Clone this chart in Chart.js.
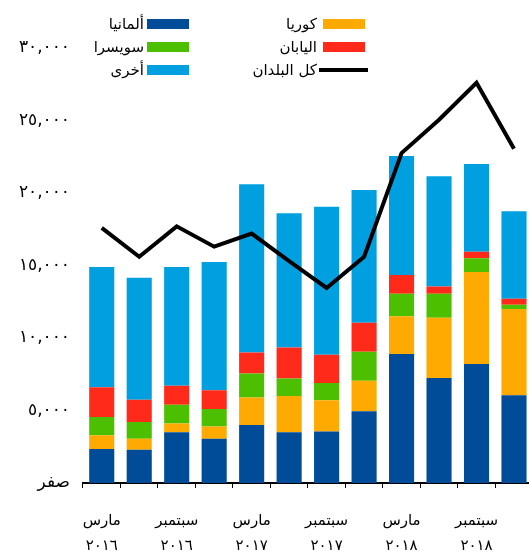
<!DOCTYPE html>
<html>
<head>
<meta charset="utf-8">
<script src="https://cdn.jsdelivr.net/npm/chart.js@4"></script>
<style>
  body { margin: 0; background: #fff; overflow: hidden; }
  #wrap { position: relative; width: 534px; height: 558px; }
  .row { position: absolute; left: 0; display: flex; justify-content: flex-end; align-items: center;
         font-family: "DejaVu Sans", sans-serif; font-size: 15px; color: #000; height: 20px; }
  .sw { height: 10px; }
</style>
</head>
<body>
<div id="wrap">
  <canvas id="chart"></canvas>
  <!-- legend, right column first as in the original -->
  <div class="row" style="top:14px;width:189px;gap:3px;"><span>ألمانيا</span><span class="sw" style="width:42px;background:#004c99"></span></div>
  <div class="row" style="top:37px;width:189px;gap:3px;"><span>سويسرا</span><span class="sw" style="width:42px;background:#4cbf00"></span></div>
  <div class="row" style="top:60px;width:189px;gap:3px;"><span>أخرى</span><span class="sw" style="width:42px;background:#00a0e0"></span></div>
  <div class="row" style="top:14px;width:365px;gap:6px;"><span>كوريا</span><span class="sw" style="width:42px;background:#ffaa00"></span></div>
  <div class="row" style="top:37px;width:365px;gap:6px;"><span>اليابان</span><span class="sw" style="width:42px;background:#ff2a1a"></span></div>
  <div class="row" style="top:60px;width:368px;gap:2px;"><span>كل البلدان</span><span style="width:49px;height:4px;background:#000"></span></div>
</div>
<script>
// quarters, labels shown for every other one
const categories = ['مارس ٢٠١٦', 'يونيو ٢٠١٦', 'سبتمبر ٢٠١٦', 'ديسمبر ٢٠١٦',
                    'مارس ٢٠١٧', 'يونيو ٢٠١٧', 'سبتمبر ٢٠١٧', 'ديسمبر ٢٠١٧',
                    'مارس ٢٠١٨', 'يونيو ٢٠١٨', 'سبتمبر ٢٠١٨', 'ديسمبر ٢٠١٨'];

const germany     = [2350, 2300, 3500, 3050, 4000, 3500, 3550, 4950, 8900, 7250, 8200, 6050];
const korea       = [950, 750, 600, 850, 1900, 2500, 2150, 2100, 2600, 4150, 6350, 5950];
const switzerland = [1250, 1150, 1300, 1200, 1650, 1200, 1200, 2000, 1550, 1650, 950, 300];
const japan       = [2050, 1550, 1300, 1300, 1450, 2150, 1950, 2000, 1300, 500, 450, 400];
const other       = [8300, 8400, 8200, 8850, 11600, 9250, 10200, 9150, 8200, 7600, 6050, 6050];
const allCountries = [17600, 15600, 17700, 16300, 17200, 15300, 13450, 15600, 22750, 25050, 27600, 23050];

const yTicks = [0, 5000, 10000, 15000, 20000, 25000, 30000];

const arDigits = '٠١٢٣٤٥٦٧٨٩';
function toArabic(n) {
    if (n === 0) return 'صفر';
    const s = String(n).replace(/\B(?=(\d{3})+(?!\d))/g, ',');
    return s.replace(/\d/g, d => arDigits[d]);
}

const font = { family: '"DejaVu Sans", sans-serif', size: 15 };

function barSet(label, data, color) {
    return {
        type: 'bar',
        label: label,
        data: data,
        backgroundColor: color,
        borderWidth: 0,
        stack: 'countries',
        order: 1,
        categoryPercentage: 1,
        barPercentage: 0.67
    };
}

const ctx = document.getElementById('chart').getContext('2d');
const chart = new Chart(ctx, {
    data: {
        labels: categories,
        datasets: [
            {
                type: 'line',
                label: 'كل البلدان',
                data: allCountries,
                borderColor: '#000',
                borderWidth: 4,
                pointRadius: 0,
                tension: 0,
                fill: false,
                stack: 'total',
                order: 0
            },
            barSet('ألمانيا', germany, '#004c99'),
            barSet('كوريا', korea, '#ffaa00'),
            barSet('سويسرا', switzerland, '#4cbf00'),
            barSet('اليابان', japan, '#ff2a1a'),
            barSet('أخرى', other, '#00a0e0')
        ]
    },
    options: {
        responsive: true,
        maintainAspectRatio: false,
        animation: false,
        layout: { padding: { top: 48, left: 0, right: 0, bottom: 0 } },
        plugins: {
            legend: { display: false },
            tooltip: { enabled: false }
        },
        scales: {
            x: {
                stacked: true,
                grid: { display: true, drawOnChartArea: false, drawTicks: true, tickLength: 5, color: '#000', lineWidth: 1 },
                border: { display: true, color: '#000', width: 2 },
                ticks: {
                    autoSkip: false,
                    maxRotation: 0,
                    padding: 20,
                    color: '#000',
                    font: Object.assign({ lineHeight: 1.7 }, font),
                    callback: function(value, index) {
                        return index % 2 === 0 ? categories[index].split(' ') : '';
                    }
                },
                afterFit: function(scale) { scale.height = 75; }
            },
            y: {
                stacked: true,
                min: 0,
                max: 30000,
                grid: { display: false, drawTicks: false },
                border: { display: false },
                afterBuildTicks: function(scale) { scale.ticks = yTicks.map(v => ({ value: v })); },
                ticks: {
                    padding: 13,
                    color: '#000',
                    font: { family: '"DejaVu Sans", sans-serif', size: 17 },
                    callback: function(value) { return toArabic(value); }
                },
                afterFit: function(scale) { scale.width = 83; }
            }
        }
    }
});
</script>
</body>
</html>
